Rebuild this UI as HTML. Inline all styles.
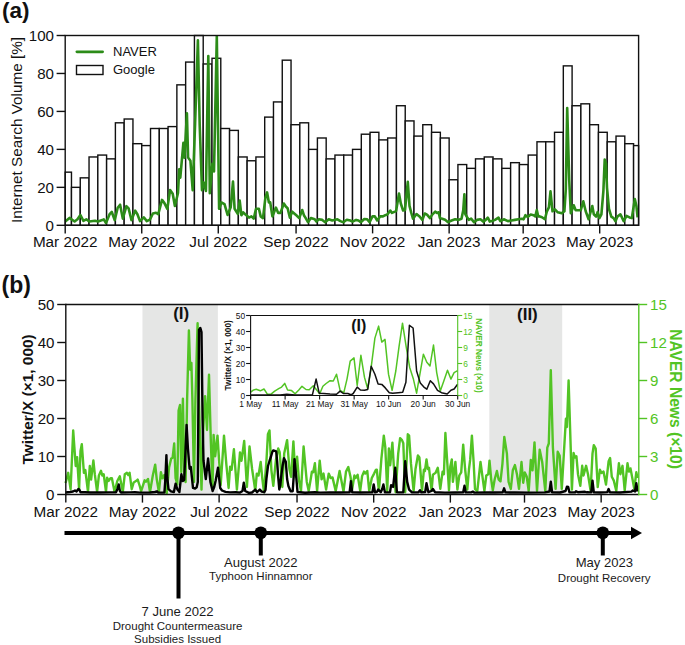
<!DOCTYPE html>
<html><head><meta charset="utf-8"><style>
html,body{margin:0;padding:0;background:#fff;}
svg{display:block;}
text{font-family:"Liberation Sans",sans-serif;}
</style></head><body>
<svg width="685" height="645" viewBox="0 0 685 645">
<g fill="#fff" stroke="#111" stroke-width="1.4">
<rect x="65.20" y="172.16" width="6.27" height="53.14"/>
<rect x="71.47" y="187.34" width="8.78" height="37.96"/>
<rect x="80.26" y="177.85" width="8.78" height="47.45"/>
<rect x="89.04" y="156.97" width="8.78" height="68.33"/>
<rect x="97.82" y="155.07" width="8.78" height="70.23"/>
<rect x="106.61" y="158.87" width="8.78" height="66.43"/>
<rect x="115.39" y="122.81" width="8.78" height="102.49"/>
<rect x="124.17" y="119.01" width="8.78" height="106.29"/>
<rect x="132.95" y="143.69" width="8.78" height="81.61"/>
<rect x="141.74" y="145.58" width="8.78" height="79.72"/>
<rect x="150.52" y="128.50" width="8.78" height="96.80"/>
<rect x="159.30" y="128.50" width="8.78" height="96.80"/>
<rect x="168.09" y="126.60" width="8.78" height="98.70"/>
<rect x="176.87" y="84.85" width="8.78" height="140.45"/>
<rect x="185.65" y="62.07" width="8.78" height="163.23"/>
<rect x="194.43" y="35.50" width="8.78" height="189.80"/>
<rect x="203.22" y="63.97" width="8.78" height="161.33"/>
<rect x="212.00" y="58.28" width="8.78" height="167.02"/>
<rect x="220.78" y="128.50" width="8.78" height="96.80"/>
<rect x="229.57" y="130.40" width="8.78" height="94.90"/>
<rect x="238.35" y="156.97" width="8.78" height="68.33"/>
<rect x="247.13" y="160.77" width="8.78" height="64.53"/>
<rect x="255.92" y="156.97" width="8.78" height="68.33"/>
<rect x="264.70" y="117.11" width="8.78" height="108.19"/>
<rect x="273.48" y="101.93" width="8.78" height="123.37"/>
<rect x="282.26" y="60.17" width="8.78" height="165.13"/>
<rect x="291.05" y="124.71" width="8.78" height="100.59"/>
<rect x="299.83" y="122.81" width="8.78" height="102.49"/>
<rect x="308.61" y="149.38" width="8.78" height="75.92"/>
<rect x="317.40" y="137.99" width="8.78" height="87.31"/>
<rect x="326.18" y="158.87" width="8.78" height="66.43"/>
<rect x="334.96" y="155.07" width="8.78" height="70.23"/>
<rect x="343.74" y="155.07" width="8.78" height="70.23"/>
<rect x="352.53" y="149.38" width="8.78" height="75.92"/>
<rect x="361.31" y="134.20" width="8.78" height="91.10"/>
<rect x="370.09" y="132.30" width="8.78" height="93.00"/>
<rect x="378.88" y="139.89" width="8.78" height="85.41"/>
<rect x="387.66" y="137.99" width="8.78" height="87.31"/>
<rect x="396.44" y="105.73" width="8.78" height="119.57"/>
<rect x="405.22" y="120.91" width="8.78" height="104.39"/>
<rect x="414.01" y="136.09" width="8.78" height="89.21"/>
<rect x="422.79" y="124.71" width="8.78" height="100.59"/>
<rect x="431.57" y="132.30" width="8.78" height="93.00"/>
<rect x="440.36" y="137.99" width="8.78" height="87.31"/>
<rect x="449.14" y="179.75" width="8.78" height="45.55"/>
<rect x="457.92" y="164.56" width="8.78" height="60.74"/>
<rect x="466.71" y="168.36" width="8.78" height="56.94"/>
<rect x="475.49" y="158.87" width="8.78" height="66.43"/>
<rect x="484.27" y="156.97" width="8.78" height="68.33"/>
<rect x="493.05" y="158.87" width="8.78" height="66.43"/>
<rect x="501.84" y="168.36" width="8.78" height="56.94"/>
<rect x="510.62" y="162.67" width="8.78" height="62.63"/>
<rect x="519.40" y="164.56" width="8.78" height="60.74"/>
<rect x="528.19" y="155.07" width="8.78" height="70.23"/>
<rect x="536.97" y="141.79" width="8.78" height="83.51"/>
<rect x="545.75" y="141.79" width="8.78" height="83.51"/>
<rect x="554.53" y="132.30" width="8.78" height="93.00"/>
<rect x="563.32" y="65.87" width="8.78" height="159.43"/>
<rect x="572.10" y="105.73" width="8.78" height="119.57"/>
<rect x="580.88" y="103.83" width="8.78" height="121.47"/>
<rect x="589.67" y="124.71" width="8.78" height="100.59"/>
<rect x="598.45" y="132.30" width="8.78" height="93.00"/>
<rect x="607.23" y="141.79" width="8.78" height="83.51"/>
<rect x="616.02" y="136.09" width="8.78" height="89.21"/>
<rect x="624.80" y="143.69" width="8.78" height="81.61"/>
<rect x="633.58" y="145.58" width="5.02" height="79.72"/>
</g>
<polyline points="65.2,221.5 65.8,221.1 69.5,217.9 74.6,221.5 77.5,219.3 80.4,215.0 83.4,220.8 86.3,219.3 89.2,221.5 95.0,220.8 98.0,221.5 102.3,220.1 103.8,219.3 106.0,223.0 109.6,214.2 111.8,212.0 114.7,220.1 117.7,207.7 120.1,204.7 122.8,218.6 126.4,206.2 128.6,208.4 131.5,220.1 135.2,210.6 137.4,214.2 140.0,221.1 143.8,217.3 146.8,221.1 149.9,219.6 152.9,213.5 156.0,212.8 158.2,214.3 162.0,199.9 164.3,202.9 167.3,209.0 170.1,190.0 172.7,193.8 174.9,206.0 178.0,193.0 179.2,169.2 180.3,177.7 183.4,142.8 184.5,157.6 186.9,113.4 188.1,157.6 190.4,160.7 192.7,190.1 195.1,123.5 197.9,40.4 199.7,125.0 202.0,190.1 203.6,182.4 205.9,190.9 208.3,56.0 209.8,193.2 212.4,163.8 214.0,171.5 216.8,36.2 219.1,208.7 221.4,202.5 224.5,204.1 227.6,214.9 230.7,207.2 233.0,181.6 234.6,208.7 237.9,214.0 239.7,200.6 241.4,215.2 243.2,212.3 244.9,214.0 249.0,217.6 251.4,216.4 253.7,218.7 256.0,208.8 258.9,208.8 260.7,216.4 263.0,218.1 265.4,197.7 267.1,192.4 268.9,202.4 270.2,202.4 272.4,216.4 275.9,207.6 278.2,212.9 280.5,212.9 283.8,203.5 285.8,206.5 287.6,208.2 289.9,217.6 292.2,211.7 296.9,215.8 299.2,218.1 302.2,210.0 303.9,215.2 305.7,218.1 308.0,222.2 310.9,218.1 314.7,219.3 316.4,221.6 318.8,219.3 322.3,219.9 325.2,222.2 328.7,219.3 332.2,220.5 337.4,219.3 340.4,221.1 343.3,222.2 346.8,219.7 350.3,220.5 352.6,221.6 356.1,219.9 358.5,220.5 360.8,222.2 364.3,219.0 367.2,219.3 369.6,222.2 372.5,216.4 374.8,216.4 377.2,220.5 380.1,216.4 383.0,216.4 385.3,215.2 387.3,214.6 390.3,210.5 392.0,212.9 396.1,211.1 399.0,193.6 400.8,203.5 403.1,210.5 405.0,210.0 407.8,181.9 409.5,205.9 411.3,212.9 413.0,218.7 416.5,214.0 419.5,216.4 422.4,219.9 424.7,213.5 427.0,214.6 430.0,218.1 432.3,214.6 435.2,211.7 437.0,212.9 438.7,212.3 439.9,218.1 442.2,218.7 445.1,219.7 448.1,222.2 451.6,220.5 455.1,219.3 458.6,219.9 461.5,218.7 463.2,210.5 464.4,194.2 465.3,214.0 467.0,217.0 468.8,219.9 471.1,218.7 474.0,222.2 476.9,219.9 480.4,219.3 483.4,221.6 485.7,219.9 487.8,217.6 489.8,221.6 492.1,221.1 495.0,219.9 498.5,217.6 500.3,221.1 503.8,219.3 507.9,221.1 511.4,220.5 514.9,219.9 518.4,219.3 521.9,218.7 523.6,219.3 525.4,215.2 527.7,217.0 530.7,214.6 533.6,215.2 535.3,216.4 536.8,210.0 538.2,216.4 539.0,216.2 542.0,217.2 544.9,219.2 546.9,211.3 548.9,207.3 550.5,191.4 552.5,211.3 554.9,209.3 557.8,212.3 561.8,213.3 564.4,211.3 565.8,189.4 567.2,108.0 569.2,179.5 570.8,213.3 573.7,205.3 575.7,210.3 580.7,210.3 583.3,201.3 585.7,211.3 588.6,219.2 591.6,208.3 592.3,206.0 593.8,214.3 596.1,216.6 597.6,212.1 599.4,218.1 601.4,214.3 603.4,190.8 604.7,159.6 606.0,163.4 607.0,187.8 609.0,209.0 611.3,216.6 613.6,218.1 615.5,221.2 617.4,216.6 620.4,214.3 621.9,217.4 623.7,221.2 626.5,215.9 629.5,217.4 631.8,218.1 634.8,199.1 636.4,206.0 637.6,217.4" fill="none" stroke="#2c8c18" stroke-width="2.6" stroke-linejoin="round"/>
<rect x="65.2" y="35.5" width="573.4" height="189.8" fill="none" stroke="#111" stroke-width="1.4"/>
<line x1="56.6" y1="225.30" x2="65.2" y2="225.30" stroke="#111" stroke-width="1.4"/>
<text x="54" y="230.50" text-anchor="end" font-size="15.1" fill="#111">0</text>
<line x1="56.6" y1="187.34" x2="65.2" y2="187.34" stroke="#111" stroke-width="1.4"/>
<text x="54" y="192.54" text-anchor="end" font-size="15.1" fill="#111">20</text>
<line x1="56.6" y1="149.38" x2="65.2" y2="149.38" stroke="#111" stroke-width="1.4"/>
<text x="54" y="154.58" text-anchor="end" font-size="15.1" fill="#111">40</text>
<line x1="56.6" y1="111.42" x2="65.2" y2="111.42" stroke="#111" stroke-width="1.4"/>
<text x="54" y="116.62" text-anchor="end" font-size="15.1" fill="#111">60</text>
<line x1="56.6" y1="73.46" x2="65.2" y2="73.46" stroke="#111" stroke-width="1.4"/>
<text x="54" y="78.66" text-anchor="end" font-size="15.1" fill="#111">80</text>
<line x1="56.6" y1="35.50" x2="65.2" y2="35.50" stroke="#111" stroke-width="1.4"/>
<text x="54" y="40.70" text-anchor="end" font-size="15.1" fill="#111">100</text>
<line x1="65.20" y1="225.3" x2="65.20" y2="233.4" stroke="#111" stroke-width="1.4"/>
<text x="65.20" y="247.3" text-anchor="middle" font-size="15.3" fill="#111">Mar 2022</text>
<line x1="141.74" y1="225.3" x2="141.74" y2="233.4" stroke="#111" stroke-width="1.4"/>
<text x="141.74" y="247.3" text-anchor="middle" font-size="15.3" fill="#111">May 2022</text>
<line x1="218.27" y1="225.3" x2="218.27" y2="233.4" stroke="#111" stroke-width="1.4"/>
<text x="218.27" y="247.3" text-anchor="middle" font-size="15.3" fill="#111">Jul 2022</text>
<line x1="296.07" y1="225.3" x2="296.07" y2="233.4" stroke="#111" stroke-width="1.4"/>
<text x="296.07" y="247.3" text-anchor="middle" font-size="15.3" fill="#111">Sep 2022</text>
<line x1="372.60" y1="225.3" x2="372.60" y2="233.4" stroke="#111" stroke-width="1.4"/>
<text x="372.60" y="247.3" text-anchor="middle" font-size="15.3" fill="#111">Nov 2022</text>
<line x1="449.14" y1="225.3" x2="449.14" y2="233.4" stroke="#111" stroke-width="1.4"/>
<text x="449.14" y="247.3" text-anchor="middle" font-size="15.3" fill="#111">Jan 2023</text>
<line x1="523.17" y1="225.3" x2="523.17" y2="233.4" stroke="#111" stroke-width="1.4"/>
<text x="523.17" y="247.3" text-anchor="middle" font-size="15.3" fill="#111">Mar 2023</text>
<line x1="599.70" y1="225.3" x2="599.70" y2="233.4" stroke="#111" stroke-width="1.4"/>
<text x="599.70" y="247.3" text-anchor="middle" font-size="15.3" fill="#111">May 2023</text>
<text transform="translate(21.8,130) rotate(-90)" text-anchor="middle" font-size="15.3" fill="#111">Internet Search Volume [%]</text>
<text x="2" y="18.3" font-size="22.5" font-weight="bold" fill="#111">(a)</text>
<line x1="76.9" y1="51.8" x2="102.6" y2="51.8" stroke="#2c8c18" stroke-width="2.8" stroke-linecap="round"/>
<rect x="76.5" y="65.5" width="26.5" height="9" fill="#fff" stroke="#111" stroke-width="1.4"/>
<text x="113" y="56.2" font-size="13" fill="#111">NAVER</text>
<text x="113" y="74.4" font-size="13" fill="#111">Google</text>
<rect x="142.46" y="304.5" width="75.40" height="190.0" fill="#e5e6e5"/>
<rect x="489.31" y="304.5" width="72.89" height="190.0" fill="#e5e6e5"/>
<polyline points="65.5,483.0 66.1,481.0 68.2,472.8 70.6,489.2 73.2,430.5 75.7,466.0 77.1,457.1 79.1,489.2 80.5,451.0 81.8,444.1 83.9,472.8 85.3,470.0 88.0,491.9 89.8,466.0 91.1,479.6 93.4,460.5 94.8,474.2 97.1,491.9 98.9,475.5 101.0,470.8 102.3,475.5 103.7,474.2 106.0,491.9 107.1,477.6 108.5,481.0 110.5,478.3 111.9,478.3 114.6,491.9 117.3,481.0 119.8,476.2 122.8,491.9 124.8,474.2 126.9,472.8 128.3,475.0 129.6,472.8 131.7,489.2 133.7,482.4 137.1,480.3 137.7,479.6 139.9,486.5 141.1,491.3 144.6,480.3 146.0,481.7 148.0,479.0 150.0,492.0 152.8,475.5 155.2,464.6 156.8,479.6 158.9,492.0 160.9,472.1 162.3,478.3 164.4,474.9 166.7,493.3 169.1,467.4 171.2,458.5 172.6,457.8 174.2,443.5 175.6,478.3 177.3,484.4 178.6,410.6 180.0,405.0 181.3,472.0 182.9,398.7 184.3,474.0 185.6,482.0 187.1,400.0 188.9,330.5 190.2,369.7 191.4,362.9 192.4,400.0 194.0,482.0 195.4,400.0 197.6,323.2 198.9,400.0 201.5,489.6 203.2,430.0 205.1,396.1 207.0,430.0 209.0,374.8 210.8,440.0 212.5,489.0 213.6,434.9 215.2,456.2 217.5,435.7 220.7,485.0 224.0,435.7 226.3,463.8 228.6,488.0 230.1,466.8 231.6,469.8 233.9,449.3 236.9,489.6 240.0,452.4 241.5,460.7 244.2,441.0 246.9,487.0 249.5,446.5 252.1,469.0 254.0,481.9 255.3,490.9 256.8,473.6 258.5,475.5 260.7,462.0 262.4,479.3 264.0,492.2 266.5,460.0 267.9,434.3 269.5,430.4 271.4,470.3 273.3,485.8 275.9,460.0 278.2,448.5 279.7,452.3 282.3,487.0 284.2,453.6 287.1,440.1 289.4,469.0 291.1,476.8 293.4,441.4 295.4,476.8 297.1,456.8 299.0,480.6 301.0,490.9 303.6,446.5 306.8,481.9 308.7,490.9 310.9,478.0 311.9,471.6 313.2,472.3 314.9,463.3 317.1,490.9 319.7,460.7 321.6,479.3 323.5,473.6 326.1,489.6 328.7,473.6 330.6,478.0 332.5,477.4 335.7,490.9 339.6,471.0 343.5,491.6 346.0,471.6 348.3,467.1 350.5,476.8 352.2,489.0 354.4,475.5 355.7,478.0 357.6,474.8 360.2,490.9 362.1,476.1 364.0,471.6 365.3,473.6 367.3,471.0 369.2,490.9 371.8,478.0 374.1,473.6 375.8,470.0 376.8,469.7 378.9,490.9 381.4,458.7 383.8,435.6 385.3,447.2 387.2,490.9 388.9,448.5 390.2,465.2 392.4,442.7 394.0,469.0 395.6,492.2 398.2,453.6 400.1,438.2 402.0,440.1 403.3,443.3 405.2,492.2 407.8,434.3 409.1,435.6 411.0,463.9 413.6,490.9 415.5,469.0 417.9,455.5 419.4,457.5 422.0,490.9 423.9,469.7 424.9,471.0 426.5,459.4 427.8,469.0 429.0,467.8 431.6,490.9 432.9,474.8 435.5,472.9 437.8,467.8 440.3,488.8 442.6,471.6 443.9,474.2 445.4,433.0 447.1,460.0 449.0,490.3 450.3,466.5 451.8,459.4 452.9,481.9 455.4,462.0 457.4,489.6 459.3,475.5 461.2,472.3 463.2,444.6 465.1,469.0 467.3,489.6 469.0,469.0 470.2,459.4 471.9,435.6 473.5,460.0 475.0,489.0 477.3,491.0 480.5,462.0 482.5,476.8 484.4,490.9 486.3,475.5 488.3,474.2 489.5,460.7 491.2,479.3 492.8,490.3 494.7,479.3 496.9,471.0 498.6,479.3 500.5,481.3 502.4,464.1 504.3,436.9 506.9,453.6 508.6,482.0 510.8,488.9 512.8,470.3 514.9,465.1 517.0,474.5 519.0,488.9 521.5,462.0 523.2,482.7 524.8,472.4 526.7,476.5 528.7,491.0 530.8,460.0 532.5,470.3 534.5,442.4 537.0,491.0 539.7,449.7 542.2,462.0 545.3,491.0 547.3,447.6 548.8,443.5 550.8,370.2 552.9,447.6 555.6,488.9 557.7,451.7 559.7,455.8 561.8,488.9 565.9,418.7 566.9,427.0 568.6,380.5 570.7,447.6 571.9,489.6 573.6,453.0 574.9,457.5 576.4,456.2 578.0,474.2 580.3,485.8 582.2,465.8 583.5,475.5 586.1,465.8 588.0,474.2 590.6,490.9 592.5,453.6 593.8,445.2 595.7,448.5 597.7,487.1 599.9,469.7 601.5,472.9 603.5,471.6 606.0,484.5 608.6,461.3 610.1,458.1 611.8,476.8 613.8,480.6 616.3,490.9 618.9,463.3 620.4,474.2 622.5,465.8 624.7,490.3 627.5,463.3 628.9,471.6 630.5,468.4 634.3,489.0 636.3,472.3 637.6,478.0" fill="none" stroke="#52c424" stroke-width="2.4" stroke-linejoin="round"/><polyline points="65.5,492.5 70.0,492.0 73.0,491.5 75.0,490.5 76.5,491.5 78.4,489.0 79.5,490.0 80.5,492.2 85.0,492.2 90.0,492.5 100.0,492.5 110.0,492.4 116.0,492.3 117.5,489.0 118.7,484.4 119.9,491.0 121.0,492.5 130.0,492.4 135.0,492.3 140.0,492.6 150.0,492.5 155.0,492.0 157.0,491.3 158.0,492.5 164.4,492.6 165.3,480.0 166.4,455.1 167.3,478.0 168.5,489.2 171.0,491.3 173.9,492.0 175.6,483.7 177.3,489.2 179.4,492.0 181.4,474.2 182.8,481.0 184.2,480.0 185.5,450.0 186.6,425.0 187.9,448.0 189.6,468.7 190.8,467.0 193.0,487.8 195.1,488.5 196.7,487.3 197.8,482.0 199.0,330.0 200.3,327.9 201.5,332.0 202.6,420.0 203.5,460.7 205.8,479.0 208.1,458.5 210.4,482.0 212.6,491.0 214.2,487.0 215.7,480.5 218.0,467.6 220.2,488.0 222.0,490.5 225.5,491.9 230.0,492.4 236.0,492.2 240.0,492.6 242.5,491.0 243.8,482.8 245.2,491.0 248.9,492.9 252.0,492.5 255.3,489.6 257.0,492.2 259.8,489.6 261.7,491.6 264.3,492.2 265.5,490.0 266.5,478.0 268.0,466.0 269.5,461.0 271.0,456.5 272.3,452.0 273.2,450.4 274.9,450.9 276.2,451.3 277.2,462.0 278.0,474.7 279.3,489.5 280.3,485.0 281.4,474.7 282.7,465.2 284.0,458.2 285.8,461.7 287.1,479.0 288.4,486.0 290.6,491.2 292.7,491.2 293.6,478.0 294.5,459.1 296.2,476.5 297.5,492.0 305.0,492.8 315.0,492.2 320.0,492.6 330.0,492.4 340.0,492.5 349.6,492.3 350.9,481.3 352.2,492.3 360.0,492.5 372.4,492.2 373.7,484.5 375.0,492.3 377.0,491.8 378.2,489.6 380.8,492.2 382.2,489.0 383.4,484.5 384.9,492.2 390.0,492.4 391.1,485.1 393.1,487.0 395.2,467.8 396.9,492.2 403.3,492.4 405.2,461.3 407.2,481.9 409.1,489.6 412.0,492.4 418.5,492.3 420.0,490.3 421.3,492.4 425.2,492.0 426.5,483.2 428.4,492.2 431.5,491.0 432.9,489.0 435.0,492.2 445.0,492.6 455.0,492.5 463.2,492.3 464.5,485.8 465.8,492.4 471.5,492.3 472.8,491.6 474.2,492.6 485.0,492.5 495.0,492.5 502.8,492.2 504.1,488.3 505.4,492.4 515.0,492.5 530.0,492.6 545.0,492.4 549.5,491.5 550.8,481.7 552.1,492.3 560.0,492.5 565.6,491.0 566.9,486.8 568.2,487.0 569.4,492.3 575.0,492.4 576.0,491.2 578.0,492.3 585.0,491.8 587.0,492.3 591.2,492.4 592.5,480.6 593.8,492.3 600.0,492.5 607.3,492.1 608.6,489.0 609.9,492.4 620.0,492.5 631.5,491.6 632.8,490.5 635.0,491.5 636.3,483.2 637.6,491.5" fill="none" stroke="#000" stroke-width="2.4" stroke-linejoin="round"/>
<rect x="218.5" y="305.5" width="268" height="108" fill="#fff"/>
<polyline points="250.6,392.2 253.0,390.3 256.2,389.2 260.3,390.8 264.0,389.0 267.5,394.3 270.7,394.3 274.7,391.1 278.7,388.7 281.6,387.1 284.7,383.4 287.6,390.0 291.6,390.6 295.1,393.8 298.8,390.0 302.0,386.3 306.0,389.5 309.2,389.8 313.3,385.8 316.5,389.8 319.7,393.8 322.9,386.3 326.1,383.5 330.1,380.7 333.3,381.0 336.5,374.2 340.1,390.3 343.8,392.7 347.0,379.1 350.2,361.1 354.0,357.9 357.2,385.5 360.9,355.3 364.5,377.4 367.7,388.7 370.9,369.4 374.9,338.1 378.6,326.1 381.8,342.1 385.0,339.4 388.5,374.2 392.1,390.3 395.8,371.0 399.0,346.9 402.5,323.2 406.2,346.9 409.7,367.5 413.4,379.1 416.6,393.2 419.9,374.2 423.4,354.2 426.8,362.2 430.0,365.9 433.5,345.0 436.7,372.6 440.3,391.1 443.9,380.7 447.5,370.2 450.9,379.1 454.1,372.6 457.6,370.7" fill="none" stroke="#52c424" stroke-width="1.5" stroke-linejoin="round"/>
<polyline points="250.6,395.1 260.0,395.0 270.0,395.1 280.0,394.9 286.8,394.3 295.0,394.9 305.0,395.0 312.4,394.8 316.1,379.1 319.2,393.2 323.7,393.5 330.0,394.0 336.5,394.3 340.1,391.1 343.3,393.5 347.8,393.5 351.0,394.8 353.2,393.5 357.2,387.1 360.4,390.0 364.5,390.3 367.7,389.5 371.2,366.2 374.9,374.2 378.1,383.9 381.8,384.4 385.3,387.9 389.3,392.7 392.6,393.2 398.2,392.7 402.7,392.2 405.9,382.3 409.4,325.3 413.1,328.0 416.6,371.0 420.3,383.1 423.9,387.1 426.8,389.2 430.3,380.7 433.5,383.9 437.5,390.3 441.5,392.7 447.2,394.0 450.9,390.3 454.1,389.0 457.6,384.2" fill="none" stroke="#111" stroke-width="1.5" stroke-linejoin="round"/>
<line x1="250.6" y1="315.5" x2="457.7" y2="315.5" stroke="#111" stroke-width="1.1"/>
<line x1="250.6" y1="315.5" x2="250.6" y2="399.5" stroke="#111" stroke-width="1.1"/>
<line x1="250.6" y1="395.5" x2="457.7" y2="395.5" stroke="#111" stroke-width="1.1"/>
<line x1="457.7" y1="315.5" x2="457.7" y2="396.0" stroke="#52c424" stroke-width="1.1"/>
<line x1="246.1" y1="395.50" x2="250.6" y2="395.50" stroke="#111" stroke-width="1.1"/>
<text x="245.1" y="398.50" text-anchor="end" font-size="8.4" fill="#111">0</text>
<line x1="457.7" y1="395.50" x2="462.2" y2="395.50" stroke="#52c424" stroke-width="1.1"/>
<text x="463.2" y="398.50" font-size="8.4" fill="#52c424">0</text>
<line x1="246.1" y1="379.50" x2="250.6" y2="379.50" stroke="#111" stroke-width="1.1"/>
<text x="245.1" y="382.50" text-anchor="end" font-size="8.4" fill="#111">10</text>
<line x1="457.7" y1="379.50" x2="462.2" y2="379.50" stroke="#52c424" stroke-width="1.1"/>
<text x="463.2" y="382.50" font-size="8.4" fill="#52c424">3</text>
<line x1="246.1" y1="363.50" x2="250.6" y2="363.50" stroke="#111" stroke-width="1.1"/>
<text x="245.1" y="366.50" text-anchor="end" font-size="8.4" fill="#111">20</text>
<line x1="457.7" y1="363.50" x2="462.2" y2="363.50" stroke="#52c424" stroke-width="1.1"/>
<text x="463.2" y="366.50" font-size="8.4" fill="#52c424">6</text>
<line x1="246.1" y1="347.50" x2="250.6" y2="347.50" stroke="#111" stroke-width="1.1"/>
<text x="245.1" y="350.50" text-anchor="end" font-size="8.4" fill="#111">30</text>
<line x1="457.7" y1="347.50" x2="462.2" y2="347.50" stroke="#52c424" stroke-width="1.1"/>
<text x="463.2" y="350.50" font-size="8.4" fill="#52c424">9</text>
<line x1="246.1" y1="331.50" x2="250.6" y2="331.50" stroke="#111" stroke-width="1.1"/>
<text x="245.1" y="334.50" text-anchor="end" font-size="8.4" fill="#111">40</text>
<line x1="457.7" y1="331.50" x2="462.2" y2="331.50" stroke="#52c424" stroke-width="1.1"/>
<text x="463.2" y="334.50" font-size="8.4" fill="#52c424">12</text>
<line x1="246.1" y1="315.50" x2="250.6" y2="315.50" stroke="#111" stroke-width="1.1"/>
<text x="245.1" y="318.50" text-anchor="end" font-size="8.4" fill="#111">50</text>
<line x1="457.7" y1="315.50" x2="462.2" y2="315.50" stroke="#52c424" stroke-width="1.1"/>
<text x="463.2" y="318.50" font-size="8.4" fill="#52c424">15</text>
<line x1="250.60" y1="395.5" x2="250.60" y2="399.5" stroke="#111" stroke-width="1.1"/>
<text x="250.60" y="407.3" text-anchor="middle" font-size="8.4" fill="#111">1 May</text>
<line x1="285.12" y1="395.5" x2="285.12" y2="399.5" stroke="#111" stroke-width="1.1"/>
<text x="285.12" y="407.3" text-anchor="middle" font-size="8.4" fill="#111">11 May</text>
<line x1="319.63" y1="395.5" x2="319.63" y2="399.5" stroke="#111" stroke-width="1.1"/>
<text x="319.63" y="407.3" text-anchor="middle" font-size="8.4" fill="#111">21 May</text>
<line x1="354.15" y1="395.5" x2="354.15" y2="399.5" stroke="#111" stroke-width="1.1"/>
<text x="354.15" y="407.3" text-anchor="middle" font-size="8.4" fill="#111">31 May</text>
<line x1="388.67" y1="395.5" x2="388.67" y2="399.5" stroke="#111" stroke-width="1.1"/>
<text x="388.67" y="407.3" text-anchor="middle" font-size="8.4" fill="#111">10 Jun</text>
<line x1="423.18" y1="395.5" x2="423.18" y2="399.5" stroke="#111" stroke-width="1.1"/>
<text x="423.18" y="407.3" text-anchor="middle" font-size="8.4" fill="#111">20 Jun</text>
<line x1="457.70" y1="395.5" x2="457.70" y2="399.5" stroke="#111" stroke-width="1.1"/>
<text x="457.70" y="407.3" text-anchor="middle" font-size="8.4" fill="#111">30 Jun</text>
<text transform="translate(230.6,355.3) rotate(-90)" text-anchor="middle" font-size="8.3" font-weight="bold" fill="#111">Twitter/X (×1, 000)</text>
<text transform="translate(476,355.5) rotate(90)" text-anchor="middle" font-size="8.3" font-weight="bold" fill="#52c424">NAVER News (×10)</text>
<text x="358.8" y="330.5" text-anchor="middle" font-size="16" font-weight="bold" fill="#111">(I)</text>
<line x1="65.8" y1="304.5" x2="638.8" y2="304.5" stroke="#111" stroke-width="1.4"/>
<line x1="65.8" y1="303.8" x2="65.8" y2="495.2" stroke="#111" stroke-width="1.4"/>
<line x1="65.8" y1="494.5" x2="638.8" y2="494.5" stroke="#111" stroke-width="1.4"/>
<line x1="638.8" y1="303.8" x2="638.8" y2="495.2" stroke="#52c424" stroke-width="1.4"/>
<line x1="57.2" y1="494.50" x2="65.8" y2="494.50" stroke="#111" stroke-width="1.4"/>
<text x="54.5" y="499.70" text-anchor="end" font-size="15.1" fill="#111">0</text>
<line x1="57.2" y1="456.50" x2="65.8" y2="456.50" stroke="#111" stroke-width="1.4"/>
<text x="54.5" y="461.70" text-anchor="end" font-size="15.1" fill="#111">10</text>
<line x1="57.2" y1="418.50" x2="65.8" y2="418.50" stroke="#111" stroke-width="1.4"/>
<text x="54.5" y="423.70" text-anchor="end" font-size="15.1" fill="#111">20</text>
<line x1="57.2" y1="380.50" x2="65.8" y2="380.50" stroke="#111" stroke-width="1.4"/>
<text x="54.5" y="385.70" text-anchor="end" font-size="15.1" fill="#111">30</text>
<line x1="57.2" y1="342.50" x2="65.8" y2="342.50" stroke="#111" stroke-width="1.4"/>
<text x="54.5" y="347.70" text-anchor="end" font-size="15.1" fill="#111">40</text>
<line x1="57.2" y1="304.50" x2="65.8" y2="304.50" stroke="#111" stroke-width="1.4"/>
<text x="54.5" y="309.70" text-anchor="end" font-size="15.1" fill="#111">50</text>
<line x1="638.8" y1="494.50" x2="647.2" y2="494.50" stroke="#52c424" stroke-width="1.4"/>
<text x="650" y="499.70" font-size="15.1" fill="#52c424">0</text>
<line x1="638.8" y1="456.50" x2="647.2" y2="456.50" stroke="#52c424" stroke-width="1.4"/>
<text x="650" y="461.70" font-size="15.1" fill="#52c424">3</text>
<line x1="638.8" y1="418.50" x2="647.2" y2="418.50" stroke="#52c424" stroke-width="1.4"/>
<text x="650" y="423.70" font-size="15.1" fill="#52c424">6</text>
<line x1="638.8" y1="380.50" x2="647.2" y2="380.50" stroke="#52c424" stroke-width="1.4"/>
<text x="650" y="385.70" font-size="15.1" fill="#52c424">9</text>
<line x1="638.8" y1="342.50" x2="647.2" y2="342.50" stroke="#52c424" stroke-width="1.4"/>
<text x="650" y="347.70" font-size="15.1" fill="#52c424">12</text>
<line x1="638.8" y1="304.50" x2="647.2" y2="304.50" stroke="#52c424" stroke-width="1.4"/>
<text x="650" y="309.70" font-size="15.1" fill="#52c424">15</text>
<line x1="65.80" y1="494.5" x2="65.80" y2="502.6" stroke="#111" stroke-width="1.4"/>
<text x="65.80" y="516.5" text-anchor="middle" font-size="15.3" fill="#111">Mar 2022</text>
<line x1="142.46" y1="494.5" x2="142.46" y2="502.6" stroke="#111" stroke-width="1.4"/>
<text x="142.46" y="516.5" text-anchor="middle" font-size="15.3" fill="#111">May 2022</text>
<line x1="219.12" y1="494.5" x2="219.12" y2="502.6" stroke="#111" stroke-width="1.4"/>
<text x="219.12" y="516.5" text-anchor="middle" font-size="15.3" fill="#111">Jul 2022</text>
<line x1="297.03" y1="494.5" x2="297.03" y2="502.6" stroke="#111" stroke-width="1.4"/>
<text x="297.03" y="516.5" text-anchor="middle" font-size="15.3" fill="#111">Sep 2022</text>
<line x1="373.69" y1="494.5" x2="373.69" y2="502.6" stroke="#111" stroke-width="1.4"/>
<text x="373.69" y="516.5" text-anchor="middle" font-size="15.3" fill="#111">Nov 2022</text>
<line x1="450.35" y1="494.5" x2="450.35" y2="502.6" stroke="#111" stroke-width="1.4"/>
<text x="450.35" y="516.5" text-anchor="middle" font-size="15.3" fill="#111">Jan 2023</text>
<line x1="524.50" y1="494.5" x2="524.50" y2="502.6" stroke="#111" stroke-width="1.4"/>
<text x="524.50" y="516.5" text-anchor="middle" font-size="15.3" fill="#111">Mar 2023</text>
<line x1="601.15" y1="494.5" x2="601.15" y2="502.6" stroke="#111" stroke-width="1.4"/>
<text x="601.15" y="516.5" text-anchor="middle" font-size="15.3" fill="#111">May 2023</text>
<text transform="translate(32.6,399.4) rotate(-90)" text-anchor="middle" font-size="15.4" font-weight="bold" fill="#111">Twitter/X (×1, 000)</text>
<text transform="translate(669.5,399) rotate(90)" text-anchor="middle" font-size="15.6" font-weight="bold" fill="#52c424">NAVER News (×10)</text>
<text x="1.5" y="293" font-size="23" font-weight="bold" fill="#111">(b)</text>
<text x="181.2" y="319" text-anchor="middle" font-size="17" font-weight="bold" fill="#111">(I)</text>
<text x="527.4" y="319.8" text-anchor="middle" font-size="17" font-weight="bold" fill="#111">(II)</text>
<line x1="64.5" y1="533" x2="632" y2="533" stroke="#000" stroke-width="4.2"/>
<polygon points="631,526.8 642,533 631,539.2" fill="#000"/>
<line x1="178.5" y1="533" x2="178.5" y2="598.5" stroke="#000" stroke-width="4"/>
<circle cx="178.5" cy="532.8" r="6.35" fill="#000"/>
<line x1="260.8" y1="533" x2="260.8" y2="555.5" stroke="#000" stroke-width="4"/>
<circle cx="260.8" cy="532.8" r="6.35" fill="#000"/>
<line x1="602.8" y1="533" x2="602.8" y2="555.5" stroke="#000" stroke-width="4"/>
<circle cx="602.8" cy="532.8" r="6.35" fill="#000"/>
<text x="260.8" y="567.3" text-anchor="middle" font-size="13.1" fill="#1a1a1a">August 2022</text>
<text x="260.8" y="580.2" text-anchor="middle" font-size="11.5" fill="#1a1a1a">Typhoon Hinnamnor</text>
<text x="177.6" y="616.2" text-anchor="middle" font-size="13.1" fill="#1a1a1a">7 June 2022</text>
<text x="177.6" y="629.5" text-anchor="middle" font-size="11.5" fill="#1a1a1a">Drought Countermeasure</text>
<text x="177.6" y="642.5" text-anchor="middle" font-size="11.5" fill="#1a1a1a">Subsidies Issued</text>
<text x="604.4" y="567.3" text-anchor="middle" font-size="13.1" fill="#1a1a1a">May 2023</text>
<text x="604.2" y="581.5" text-anchor="middle" font-size="11.5" fill="#1a1a1a">Drought Recovery</text>
</svg>
</body></html>
